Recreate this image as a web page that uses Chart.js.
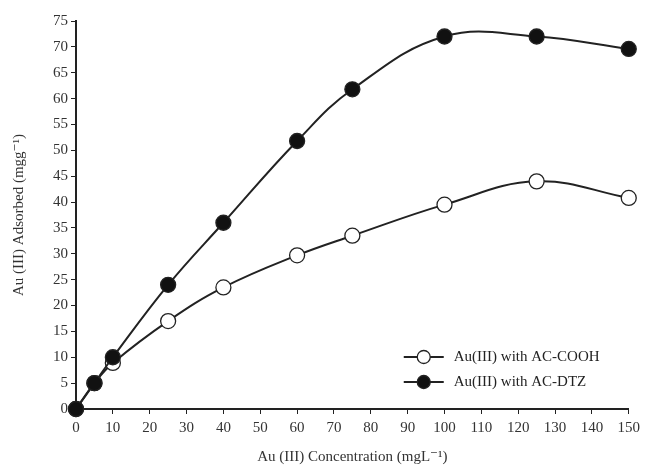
<!DOCTYPE html>
<html>
<head>
<meta charset="utf-8">
<script src="https://cdn.jsdelivr.net/npm/chart.js@4.4.1/dist/chart.umd.min.js"></script>
<style>
  html, body { margin: 0; padding: 0; background: #fff; }
  #wrap { width: 645px; height: 470px; }
</style>
</head>
<body>
<div id="wrap"><canvas id="chart" width="645" height="470"></canvas></div>
<script>
// values
const concentration = [0, 5, 10, 25, 40, 60, 75, 100, 125, 150];
const cooh = [0, 5, 8.9, 17, 23.5, 29.7, 33.5, 39.5, 44, 40.8];
const dtz = [0, 5, 10, 24, 36, 51.8, 61.8, 72, 72, 69.6];
const seriesNames = ['Au(III) with AC-COOH', 'Au(III) with AC-DTZ'];
const xTicks = [0, 10, 20, 30, 40, 50, 60, 70, 80, 90, 100, 110, 120, 130, 140, 150];
const yTicks = [0, 5, 10, 15, 20, 25, 30, 35, 40, 45, 50, 55, 60, 65, 70, 75];

const ink = '#222';
const serif = '"Liberation Serif", "DejaVu Serif", serif';

const toPoints = ys => concentration.map((x, i) => ({ x, y: ys[i] }));

// legend drawn inside the plot, lower right
const insideLegend = {
    id: 'insideLegend',
    afterDraw(chart) {
        const ctx = chart.ctx;
        const area = chart.chartArea;
        const x0 = area.right - 225;
        const rows = [area.bottom - 52, area.bottom - 27];
        ctx.save();
        [0, 1].forEach(i => {
            const ds = chart.data.datasets[i];
            const y = rows[i];
            ctx.strokeStyle = ink;
            ctx.lineWidth = 2;
            ctx.beginPath();
            ctx.moveTo(x0, y);
            ctx.lineTo(x0 + 40, y);
            ctx.stroke();
            ctx.beginPath();
            ctx.arc(x0 + 20, y, 6.5, 0, Math.PI * 2);
            ctx.fillStyle = ds.pointBackgroundColor;
            ctx.fill();
            ctx.lineWidth = 1.3;
            ctx.stroke();
            ctx.fillStyle = ink;
            ctx.font = '15px ' + serif;
            ctx.textBaseline = 'middle';
            ctx.fillText(ds.label, x0 + 50, y);
        });
        ctx.restore();
    }
};

new Chart(document.getElementById('chart'), {
    type: 'scatter',
    data: {
        datasets: [
            {
                label: seriesNames[0],
                data: toPoints(cooh),
                order: 1,
                clip: false,
                showLine: true,
                tension: 0.4,
                borderColor: ink,
                borderWidth: 2,
                pointRadius: 7.5,
                pointBorderWidth: 1.3,
                pointBorderColor: ink,
                pointBackgroundColor: '#fff'
            },
            {
                label: seriesNames[1],
                data: toPoints(dtz),
                order: 0,
                clip: false,
                showLine: true,
                tension: 0.4,
                borderColor: ink,
                borderWidth: 2,
                pointRadius: 7.5,
                pointBorderWidth: 1.3,
                pointBorderColor: ink,
                pointBackgroundColor: '#111'
            }
        ]
    },
    options: {
        responsive: false,
        animation: false,
        layout: { padding: { top: 21, right: 13, left: 6, bottom: 0 } },
        plugins: {
            legend: { display: false },
            tooltip: { enabled: false }
        },
        scales: {
            x: {
                type: 'linear',
                min: 0,
                max: 150,
                afterBuildTicks: axis => { axis.ticks = xTicks.map(v => ({ value: v })); },
                grid: { drawOnChartArea: false, tickLength: 5, color: ink, tickWidth: 1 },
                border: { color: ink, width: 2 },
                ticks: { color: '#333', font: { family: serif, size: 15 }, padding: 5, maxRotation: 0 },
                title: {
                    display: true,
                    text: 'Au (III) Concentration (mgL⁻¹)',
                    color: '#333',
                    font: { family: serif, size: 15 },
                    padding: { top: 6 }
                }
            },
            y: {
                type: 'linear',
                min: 0,
                max: 75,
                afterBuildTicks: axis => { axis.ticks = yTicks.map(v => ({ value: v })); },
                grid: { drawOnChartArea: false, tickLength: 5, color: ink, tickWidth: 1 },
                border: { color: ink, width: 2 },
                ticks: { color: '#333', font: { family: serif, size: 15 }, padding: 3 },
                title: {
                    display: true,
                    text: 'Au (III) Adsorbed (mgg⁻¹)',
                    color: '#333',
                    font: { family: serif, size: 15 },
                    padding: { bottom: 22 }
                }
            }
        }
    },
    plugins: [insideLegend]
});
</script>
</body>
</html>
